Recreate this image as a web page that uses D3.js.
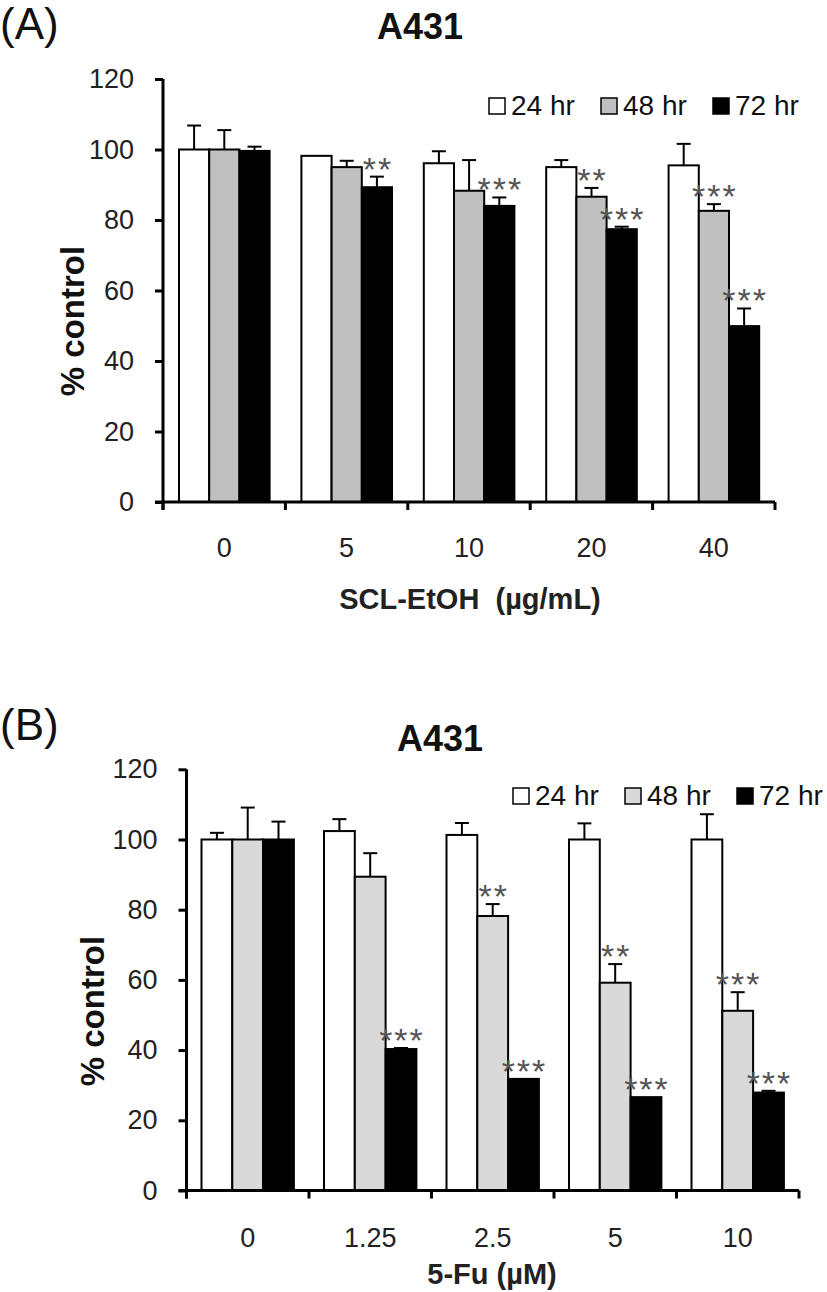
<!DOCTYPE html>
<html><head><meta charset="utf-8">
<script src="https://cdn.jsdelivr.net/npm/d3@7"></script>
<style>
html,body{margin:0;padding:0;background:#fff;}
svg{display:block;}
text{font-family:"Liberation Sans",Arial,sans-serif;}
</style></head>
<body>
<svg id="chart" width="827" height="1292"></svg>
<script>
// ---------- data ----------
const seriesNames = ["24 hr", "48 hr", "72 hr"];
const yTicks = [0, 20, 40, 60, 80, 100, 120];

// Panel A: SCL-EtOH
const groupsA = ["0", "5", "10", "20", "40"];
const a24 = [100, 98.2, 96.1, 95.0, 95.5];
const a24err = [6.8, 0, 3.4, 2.0, 6.1];
const a48 = [100, 95.0, 88.3, 86.6, 82.6];
const a48err = [5.5, 1.8, 8.7, 2.5, 1.9];
const a72 = [99.6, 89.3, 84.0, 77.4, 49.9];
const a72err = [1.2, 3.0, 2.4, 0.7, 5.0];
const starsA24 = ["", "", "", "", ""];
const starsA48 = ["", "", "", "**", "***"];
const starsA72 = ["", "**", "***", "***", "***"];

// Panel B: 5-Fu
const groupsB = ["0", "1.25", "2.5", "5", "10"];
const b24 = [100, 102.4, 101.3, 100, 100];
const b24err = [1.9, 3.4, 3.4, 4.6, 7.2];
const b48 = [100, 89.4, 78.2, 59.2, 51.2];
const b48err = [9.1, 6.7, 3.4, 5.3, 5.3];
const b72 = [100, 40.3, 31.8, 26.6, 27.9];
const b72err = [5.1, 0.3, 0, 0, 0.5];
const starsB24 = ["", "", "", "", ""];
const starsB48 = ["", "", "**", "**", "***"];
const starsB72 = ["", "***", "***", "***", "***"];

// ---------- drawing ----------
const svg = d3.select("#chart");

function drawPanel(p) {
  const g = svg.append("g");
  const y = d3.scaleLinear().domain([0, 120]).range([p.y0, p.y120]);
  const x = d3.scaleBand().domain(p.groups).range([p.xL, p.xR]).padding(0);
  const bw = x.bandwidth();
  const xs = d3.scaleBand().domain(seriesNames).range([p.inner, p.inner + 3 * p.barW]).padding(0);

  const rows = [];
  p.series.forEach((s, si) => {
    p.groups.forEach((grp, gi) => {
      rows.push({grp, name: seriesNames[si], v: s.vals[gi], e: s.err[gi], star: s.stars[gi], fill: p.fills[si]});
    });
  });

  // bars
  g.selectAll("rect.bar").data(rows).join("rect")
    .attr("x", d => x(d.grp) + xs(d.name))
    .attr("y", d => y(d.v))
    .attr("width", xs.bandwidth())
    .attr("height", d => y(0) - y(d.v))
    .attr("fill", d => d.fill)
    .attr("stroke", "#000").attr("stroke-width", 2);

  // error bars
  const eb = rows.filter(d => d.e > 0);
  g.selectAll("line.err").data(eb).join("line")
    .attr("x1", d => x(d.grp) + xs(d.name) + xs.bandwidth() / 2)
    .attr("x2", d => x(d.grp) + xs(d.name) + xs.bandwidth() / 2)
    .attr("y1", d => y(d.v)).attr("y2", d => y(d.v + d.e))
    .attr("stroke", "#000").attr("stroke-width", 2);
  g.selectAll("line.cap").data(eb).join("line")
    .attr("x1", d => x(d.grp) + xs(d.name) + xs.bandwidth() / 2 - 7)
    .attr("x2", d => x(d.grp) + xs(d.name) + xs.bandwidth() / 2 + 7)
    .attr("y1", d => y(d.v + d.e)).attr("y2", d => y(d.v + d.e))
    .attr("stroke", "#000").attr("stroke-width", 2);

  // significance stars
  g.selectAll("text.star").data(rows.filter(d => d.star)).join("text")
    .attr("x", d => x(d.grp) + xs(d.name) + xs.bandwidth() / 2 + 1)
    .attr("y", d => y(d.v + d.e) - 15 + 19)
    .attr("text-anchor", "middle")
    .attr("font-size", 34).attr("letter-spacing", 2).attr("fill", "#555")
    .text(d => d.star);

  // y axis
  const ya = g.append("g").attr("transform", `translate(${p.xL},0)`)
    .call(d3.axisLeft(y).tickValues(yTicks).tickSize(8).tickSizeOuter(0).tickPadding(21));
  ya.select(".domain").attr("stroke-width", 3).attr("d", `M0,${p.y0 + 8}V${p.y120}`);
  ya.selectAll(".tick line").attr("stroke-width", 3);
  ya.selectAll(".tick text").attr("font-size", 27).attr("fill", "#222")
    .attr("font-family", '"Liberation Sans",Arial,sans-serif');

  // x axis line & boundary ticks
  g.append("line").attr("x1", p.xL - 8).attr("x2", p.xR)
    .attr("y1", y(0)).attr("y2", y(0)).attr("stroke", "#000").attr("stroke-width", 3);
  const bounds = p.groups.map(d => x(d)).concat([x(p.groups[p.groups.length - 1]) + bw]);
  g.selectAll("line.xt").data(bounds).join("line")
    .attr("x1", d => d).attr("x2", d => d)
    .attr("y1", y(0)).attr("y2", y(0) + 8)
    .attr("stroke", "#000").attr("stroke-width", 3);
  const xa = g.append("g").attr("transform", `translate(0,${y(0)})`)
    .call(d3.axisBottom(x).tickSize(0).tickPadding(0));
  xa.select(".domain").remove();
  xa.selectAll(".tick text").attr("font-size", 27).attr("fill", "#222")
    .attr("dy", null).attr("y", p.xLabelDy)
    .attr("font-family", '"Liberation Sans",Arial,sans-serif');

  // axis titles
  g.append("text").attr("x", p.xTitleX).attr("y", p.xTitleY)
    .attr("text-anchor", "middle").attr("font-size", 29).attr("font-weight", "bold")
    .attr("fill", "#222").style("white-space", "pre").text(p.xTitle);
  g.append("text").attr("transform", `translate(${p.yTitleX},${p.yTitleY}) rotate(-90)`)
    .attr("text-anchor", "middle").attr("font-size", 33).attr("font-weight", "bold")
    .attr("dy", "0.35em").attr("fill", "#111").text("% control");

  // title & panel letter
  g.append("text").attr("x", p.titleX).attr("y", p.titleY).attr("text-anchor", "middle")
    .attr("font-size", 36).attr("font-weight", "bold").attr("fill", "#111").text("A431");
  g.append("text").attr("x", 0).attr("y", p.letterY).attr("font-size", 44)
    .attr("fill", "#111").text(p.letter);

  // legend
  const lg = g.selectAll("g.leg").data(seriesNames).join("g")
    .attr("transform", (d, i) => `translate(${p.legX + i * 112},${p.legY})`);
  lg.append("rect").attr("x", 0).attr("y", -16).attr("width", 16).attr("height", 16)
    .attr("fill", (d, i) => p.fills[i]).attr("stroke", "#000").attr("stroke-width", 1.5);
  lg.append("text").attr("x", 22).attr("y", 1).attr("font-size", 28).attr("fill", "#111")
    .text(d => d);
}

drawPanel({
  letter: "(A)", letterY: 39, titleX: 420, titleY: 39,
  groups: groupsA,
  series: [
    {vals: a24, err: a24err, stars: starsA24},
    {vals: a48, err: a48err, stars: starsA48},
    {vals: a72, err: a72err, stars: starsA72}
  ],
  fills: ["#ffffff", "#c0c0c0", "#000000"],
  xL: 163, xR: 775, y0: 502, y120: 79, inner: 16, barW: 30.2,
  xLabelDy: 55, xTitle: "SCL-EtOH  (µg/mL)", xTitleX: 470, xTitleY: 609,
  yTitleX: 72, yTitleY: 321,
  legX: 489, legY: 114
});

drawPanel({
  letter: "(B)", letterY: 740, titleX: 440, titleY: 751,
  groups: groupsB,
  series: [
    {vals: b24, err: b24err, stars: starsB24},
    {vals: b48, err: b48err, stars: starsB48},
    {vals: b72, err: b72err, stars: starsB72}
  ],
  fills: ["#ffffff", "#d9d9d9", "#000000"],
  xL: 186.5, xR: 799, y0: 1190.5, y120: 769.3, inner: 15, barW: 30.8,
  xLabelDy: 56, xTitle: "5-Fu (µM)", xTitleX: 492, xTitleY: 1284,
  yTitleX: 92, yTitleY: 1011,
  legX: 513, legY: 804
});
</script>
</body></html>
